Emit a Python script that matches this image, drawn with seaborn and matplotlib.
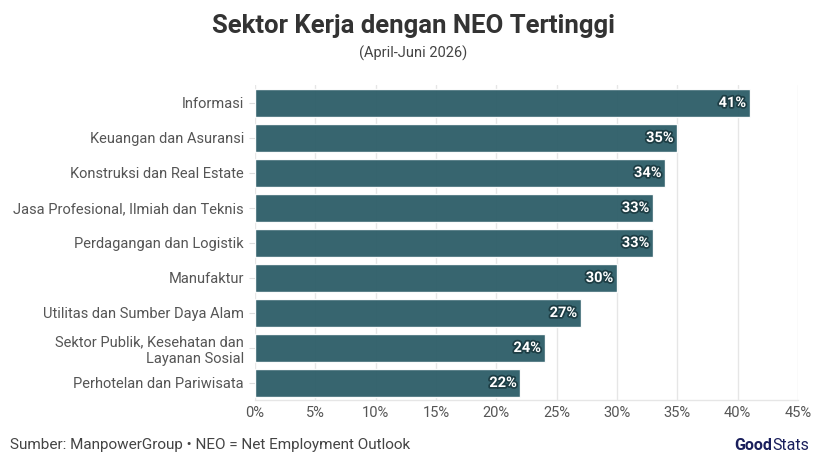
import matplotlib
matplotlib.use("Agg")
import matplotlib.pyplot as plt
import matplotlib.patheffects as pe
import numpy as np
import pandas as pd
import seaborn as sns

sectors = [
    "Informasi",
    "Keuangan dan Asuransi",
    "Konstruksi dan Real Estate",
    "Jasa Profesional, Ilmiah dan Teknis",
    "Perdagangan dan Logistik",
    "Manufaktur",
    "Utilitas dan Sumber Daya Alam",
    "Sektor Publik, Kesehatan dan\nLayanan Sosial",
    "Perhotelan dan Pariwisata",
]
neo = [41, 35, 34, 33, 33, 30, 27, 24, 22]
x_ticks = [0, 5, 10, 15, 20, 25, 30, 35, 40, 45]

BAR = "#2f5f69"
TEXT = "#555555"

df = pd.DataFrame({"sektor": sectors, "neo": neo})

sns.set_theme(style="white")
plt.rcParams["font.family"] = ["Roboto", "DejaVu Sans"]

fig = plt.figure(figsize=(8.26, 4.67), dpi=100)
ax = fig.add_axes([0.3087, 0.1424, 0.6574, 0.6746])

sns.barplot(data=df, x="neo", y="sektor", color=BAR, width=0.8,
            saturation=1, alpha=0.96, ax=ax, zorder=2)

for i, v in enumerate(neo):
    ax.text(v - 0.3, i, f"{v}%", ha="right", va="center", color="white",
            fontsize=10.5, fontweight="bold", zorder=3,
            path_effects=[pe.withStroke(linewidth=2.5, foreground="#1d3d44")])

ax.set_xlim(0, 45)
ax.set_ylim(8.5, -0.5)
ax.set_xticks(x_ticks)
ax.set_xticklabels([f"{t}%" for t in x_ticks])
ax.xaxis.grid(True, color="#e6e6e6", linewidth=1, zorder=0)
ax.set_xlabel("")
ax.set_ylabel("")
ax.tick_params(axis="x", colors=TEXT, labelsize=10.5, length=0, pad=4)
ax.tick_params(axis="y", colors=TEXT, labelsize=10.5, length=4, width=0.8,
               color="#dddddd", pad=4, left=True)
for lbl in ax.get_yticklabels():
    lbl.set_horizontalalignment("right")
for side in ["top", "right", "left"]:
    ax.spines[side].set_visible(False)
ax.spines["bottom"].set_color("#e6e6e6")
ax.spines["bottom"].set_linewidth(1)

fig.text(0.5, 0.945, "Sektor Kerja dengan NEO Tertinggi", ha="center",
         va="center", fontsize=18.5, fontweight="bold", color="#333333")
fig.text(0.5, 0.885, "(April-Juni 2026)", ha="center", va="center",
         fontsize=10.5, color="#444444")
fig.text(0.012, 0.047, "Sumber: ManpowerGroup \u2022 NEO = Net Employment Outlook",
         ha="left", va="center", fontsize=11, color="#444444")
fig.text(0.935, 0.045, "Good", ha="right", va="center", fontsize=11.5,
         fontweight="bold", color="#1a1f5c")
fig.text(0.935, 0.045, "Stats", ha="left", va="center", fontsize=11.5,
         color="#1a1f5c")

fig.savefig("out.png", dpi=100)
